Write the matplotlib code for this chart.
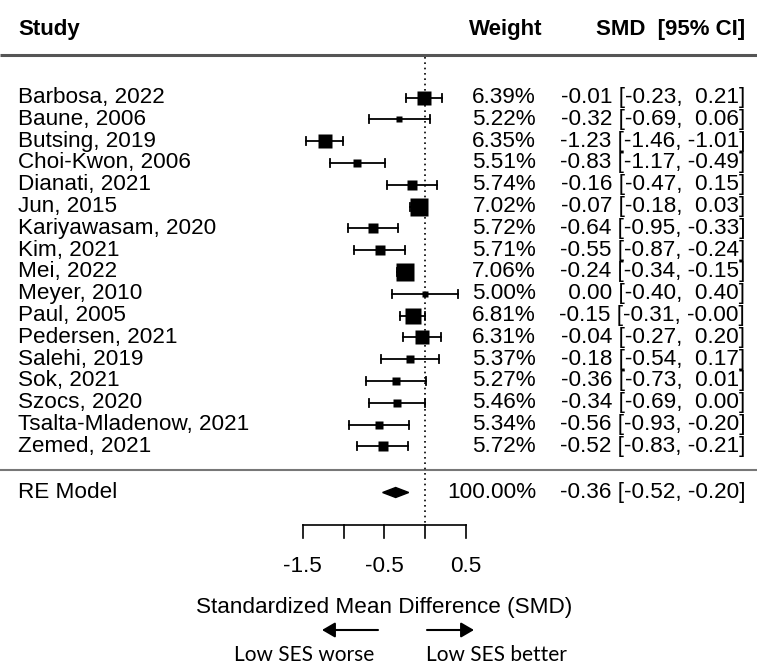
import matplotlib
matplotlib.use("Agg")
import matplotlib.pyplot as plt
from matplotlib.patches import Polygon, FancyArrowPatch

studies = ["Barbosa, 2022", "Baune, 2006", "Butsing, 2019", "Choi-Kwon, 2006",
           "Dianati, 2021", "Jun, 2015", "Kariyawasam, 2020", "Kim, 2021",
           "Mei, 2022", "Meyer, 2010", "Paul, 2005", "Pedersen, 2021",
           "Salehi, 2019", "Sok, 2021", "Szocs, 2020", "Tsalta-Mladenow, 2021",
           "Zemed, 2021"]
weights = [6.39, 5.22, 6.35, 5.51, 5.74, 7.02, 5.72, 5.71, 7.06, 5.00,
           6.81, 6.31, 5.37, 5.27, 5.46, 5.34, 5.72]
smd = [-0.01, -0.32, -1.23, -0.83, -0.16, -0.07, -0.64, -0.55, -0.24, 0.00,
       -0.15, -0.04, -0.18, -0.36, -0.34, -0.56, -0.52]
ci_low = [-0.23, -0.69, -1.46, -1.17, -0.47, -0.18, -0.95, -0.87, -0.34, -0.40,
          -0.31, -0.27, -0.54, -0.73, -0.69, -0.93, -0.83]
ci_high = [0.21, 0.06, -1.01, -0.49, 0.15, 0.03, -0.33, -0.24, -0.15, 0.40,
           -0.0, 0.20, 0.17, 0.01, 0.00, -0.20, -0.21]
re_label = "RE Model"
re_weight = 100.00
re_est, re_low, re_high = -0.36, -0.52, -0.20
xticks = [-1.5, -1.0, -0.5, 0.0, 0.5]
xtick_labels = ["-1.5", "", "-0.5", "", "0.5"]
xlabel = "Standardized Mean Difference (SMD)"
arrow_left_label = "Low SES worse"
arrow_right_label = "Low SES better"

W, H = 757, 665
X0, SCALE = 425.0, 81.5  # pixel of x=0 and pixels per unit

def X(px):
    return (px - X0) / SCALE

FONT = "Liberation Sans"
FS = 16.2

fig = plt.figure(figsize=(W / 100, H / 100), dpi=100)
ax = fig.add_axes([0, 0, 1, 1])
ax.set_xlim(X(0), X(W))
ax.set_ylim(H, 0)
ax.axis("off")

row0, dy = 97.5, 21.8
ys = [row0 + dy * i for i in range(len(studies))]
re_y = 492.5

# header
ax.text(X(18), 30, "Study", fontsize=16, fontweight="bold", family=FONT, va="center", ha="left")
ax.text(X(542), 30, "Weight", fontsize=16, fontweight="bold", family=FONT, va="center", ha="right")
ax.text(X(745), 30, "SMD  [95% CI]", fontsize=16, fontweight="bold", family=FONT, va="center", ha="right")
ax.plot([X(0), X(W)], [54.5, 54.5], color="#555555", lw=2.2, solid_capstyle="butt")
ax.plot([X(0), X(W)], [470, 470], color="#777777", lw=1.5, solid_capstyle="butt")

# reference line
ax.plot([0, 0], [57, 525], color="black", lw=1.2, linestyle=(0, (1, 2.2)))

wmin, wmax = min(weights), max(weights)
cap = 4.0
for name, w, e, lo, hi, y in zip(studies, weights, smd, ci_low, ci_high, ys):
    ax.plot([lo, hi], [y, y], color="black", lw=1.3)
    ax.plot([lo, lo], [y - cap, y + cap], color="black", lw=1.3)
    ax.plot([hi, hi], [y - cap, y + cap], color="black", lw=1.3)
    side_px = 11.5 * (0.5 + (w - wmin) / (wmax - wmin))
    ax.plot([e], [y], marker="s", markersize=side_px * 0.72, color="black", mec="none")
    ax.text(X(18), y, name, fontsize=FS, family=FONT, va="center", ha="left")
    ax.text(X(536), y, f"{w:.2f}%", fontsize=FS, family=FONT, va="center", ha="right")
    ax.text(X(745), y, f"{e:5.2f} [{lo:5.2f}, {hi:5.2f}]", fontsize=FS, family=FONT,
            va="center", ha="right")

# RE model
ax.add_patch(Polygon([[re_low, re_y], [re_est, re_y - 5], [re_high, re_y], [re_est, re_y + 5]],
                     closed=True, color="black"))
ax.text(X(18), re_y, re_label, fontsize=FS, family=FONT, va="center", ha="left")
ax.text(X(536), re_y, f"{re_weight:.2f}%", fontsize=FS, family=FONT, va="center", ha="right")
ax.text(X(745), re_y, f"{re_est:5.2f} [{re_low:5.2f}, {re_high:5.2f}]", fontsize=FS,
        family=FONT, va="center", ha="right")

# x axis
ax.plot([xticks[0], xticks[-1]], [525, 525], color="black", lw=1.2)
for t, lab in zip(xticks, xtick_labels):
    ax.plot([t, t], [525, 538], color="black", lw=1.2)
    if lab:
        ax.text(t, 567, lab, fontsize=FS, family=FONT, va="center", ha="center")
ax.text((xticks[0] + xticks[-1]) / 2, 607, xlabel, fontsize=FS, family=FONT,
        va="center", ha="center")

# arrows
for x1, x2 in [(X(378), X(322)), (X(427), X(474))]:
    ax.add_patch(FancyArrowPatch((x1, 630), (x2, 630), arrowstyle="-|>,head_length=6,head_width=3.5",
                                 color="black", lw=1.5, mutation_scale=1.3, shrinkA=0, shrinkB=0))
ax.text(X(304), 655, arrow_left_label, fontsize=15, family="Lato", va="center", ha="center")
ax.text(X(496), 655, arrow_right_label, fontsize=15, family="Lato", va="center", ha="center")

fig.savefig("out.png", dpi=100)
